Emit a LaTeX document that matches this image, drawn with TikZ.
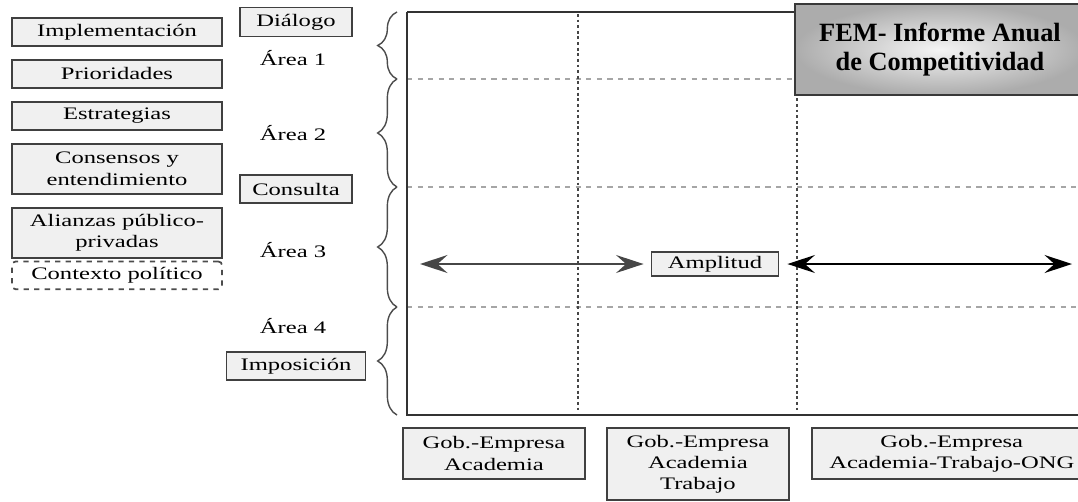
\documentclass[tikz,border=0pt]{standalone}
\usepackage{fontspec}
\setmainfont{Liberation Serif}
\newfontfamily\widefont{Liberation Serif}[FakeStretch=1.4]
\usepackage{tikz}
\usetikzlibrary{positioning, arrows.meta, decorations.pathreplacing, shadings}
\tikzset{labelbox/.style={
        draw=black!75,
        line width=1.1pt,
        rectangle,
        fill=gray!12,
        inner sep=2pt,
        align=center
}}
\tikzset{sidebox/.style={
        labelbox,
        minimum width=4.2cm,
        minimum height=0.56cm
}}
\tikzset{contextbox/.style={
        draw=black!70,
        line width=1pt,
        dashed,
        rounded corners=2pt,
        minimum width=4.2cm,
        minimum height=0.48cm,
        align=center
}}
\tikzset{titlebox/.style={
        draw=gray!45!black,
        line width=1.2pt,
        inner color=gray!8,
        outer color=gray!65,
        minimum width=5.8cm,
        minimum height=1.82cm,
        align=center,
        text=black,
        font=\bfseries\fontsize{15}{17}\selectfont
}}
\tikzset{frameline/.style={draw=black!80,line width=1.3pt}}
\tikzset{griddash/.style={draw=gray!70,dashed,line width=0.6pt}}
\tikzset{griddot/.style={draw=gray!55!black,dash pattern=on 1.6pt off 1.6pt,line width=1.6pt}}
\tikzset{areabrace/.style={decorate,decoration={brace,amplitude=11pt},draw=black!70,line width=0.8pt}}
\tikzset{rangeedge/.style={draw,line width=1pt,{Stealth[length=5.5mm,width=3.6mm,inset=2mm]}-{Stealth[length=5.5mm,width=3.6mm,inset=2mm]}}}

\begin{document}
\begin{tikzpicture}[x=0.02cm,y=-0.02cm,every node/.style={font=\widefont\fontsize{10}{12}\selectfont,text=black}]
\useasboundingbox (0,0) rectangle (1078,501);

\node[sidebox] (impl) at (117,32) {Implementación};
\node[sidebox, below=0.24cm of impl] (prio) {Prioridades};
\node[sidebox, below=0.24cm of prio] (estr) {Estrategias};
\node[sidebox, minimum height=1cm, below=0.24cm of estr] (cons) {Consensos y\\entendimiento};
\node[sidebox, minimum height=1cm, below=0.24cm of cons] (alia) {Alianzas público-\\privadas};
\node[contextbox, below=0.04cm of alia] (ctx) {Contexto político};

\node[labelbox, minimum width=2.24cm, minimum height=0.58cm] (dial) at (296,22) {Diálogo};
\node (area1) at (293,58) {Área 1};
\node (area2) at (293,133) {Área 2};
\node[labelbox, minimum width=2.24cm, minimum height=0.56cm] (consu) at (296,189) {Consulta};
\node (area3) at (293,250) {Área 3};
\node (area4) at (293,326) {Área 4};
\node[labelbox, minimum width=2.78cm, minimum height=0.56cm] (impo) at (296,366) {Imposición};

\foreach \y in {79,187,307}
  \draw[griddash] (407,\y) -- (1078,\y);
\foreach \x in {578,797}
  \draw[griddot] (\x,14) -- (\x,413);
\draw[frameline] (407,12) -- (1078,12);
\draw[frameline] (407,12) -- (407,415) -- (1078,415);
\foreach \a/\b in {79/12,187/79,307/187,415/307}
  \draw[areabrace] (397,\a) -- (397,\b);

\node[titlebox] (fem) at (940,49.5) {FEM- Informe Anual\\de Competitividad};

\node[labelbox, minimum width=2.54cm, minimum height=0.48cm] (amp) at (715,264) {Amplitud};
\coordinate (ampL) at (420,264);
\coordinate (ampR) at (1072,264);
\draw[rangeedge, draw=gray!55!black] (ampL) -- (amp) [shorten >=0.14cm];
\draw[rangeedge] (amp) -- (ampR) [shorten <=0.16cm];

\node[labelbox, minimum width=3.64cm, minimum height=1.02cm] (gob1) at (494,453.5) {Gob.-Empresa\\Academia};
\node[labelbox, minimum width=3.64cm, minimum height=1.44cm, right=0.4cm of gob1.north east, anchor=north west] (gob2) {Gob.-Empresa\\Academia\\Trabajo};
\node[labelbox, minimum width=5.6cm, minimum height=1.02cm, right=0.42cm of gob2.north east, anchor=north west] (gob3) {Gob.-Empresa\\Academia-Trabajo-ONG};
\end{tikzpicture}
\end{document}
